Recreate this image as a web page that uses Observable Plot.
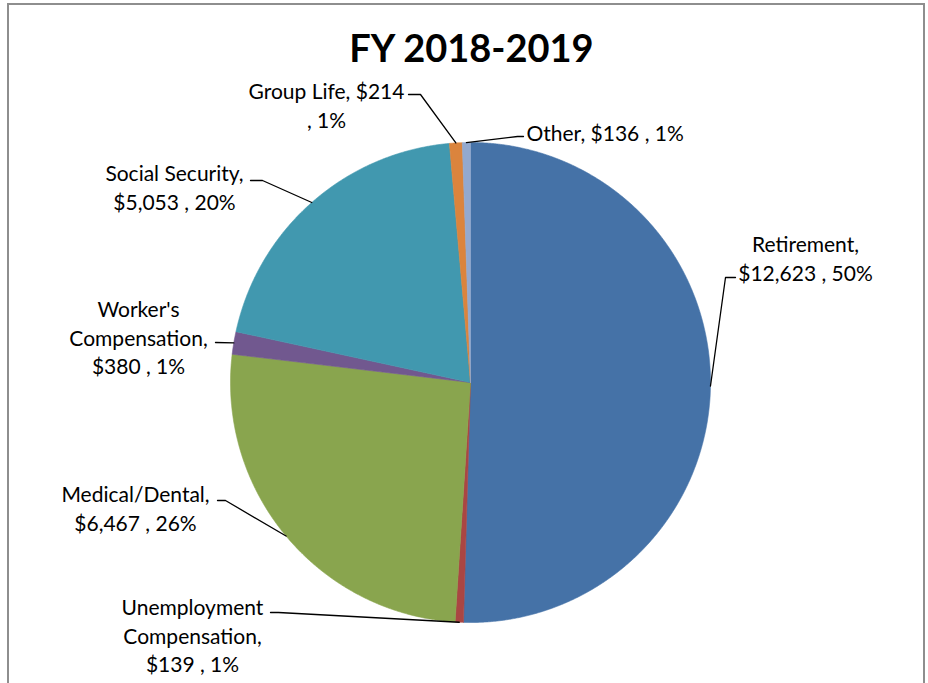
<!DOCTYPE html>
<html><head><meta charset="utf-8">
<script src="https://cdn.jsdelivr.net/npm/d3@7"></script>
<script src="https://cdn.jsdelivr.net/npm/@observablehq/plot@0.6"></script>
<style>
html,body{margin:0;padding:0;background:#fff;overflow:hidden}
#wrap{position:relative;width:928px;height:683px}
#border{position:absolute;left:7px;top:3px;width:918px;height:740px;border:2px solid #8e8e8e;box-sizing:border-box;pointer-events:none}
</style></head><body><div id="wrap"><div id="chart"></div><div id="border"></div></div>
<script>
// ---- data ----
const title = "FY 2018-2019";
const categories = ["Retirement", "Unemployment Compensation", "Medical/Dental", "Worker's Compensation", "Social Security", "Group Life", "Other"];
const values = [12623, 139, 6467, 380, 5053, 214, 136];
const amountLabels = ["$12,623", "$139", "$6,467", "$380", "$5,053", "$214", "$136"];
const percentLabels = ["50%", "1%", "26%", "1%", "20%", "1%", "1%"];
// how the original wraps each data label
const labelLines = [
  ["Retirement,", "$12,623 , 50%"],
  ["Unemployment", "Compensation,", "$139 , 1%"],
  ["Medical/Dental,", "$6,467 , 26%"],
  ["Worker's", "Compensation,", "$380 , 1%"],
  ["Social Security,", "$5,053 , 20%"],
  ["Group Life, $214", ", 1%"],
  ["Other, $136 , 1%"]
];
const sliceColors = ["#4572A7", "#AA4643", "#89A54E", "#71588F", "#4198AF", "#DB843D", "#93A9CF"];

// ---- layout (pixels) ----
const W = 928, H = 683;
const center = [470, 382], radius = 240;
const labelPos = [[805, 257], [192, 634], [135, 507], [138, 336], [174, 186], [326, 104], [526, 131]];
const labelAnchor = ["middle", "middle", "middle", "middle", "middle", "middle", "start"];
const leaderElbows = [
  [[735, 277], [725, 277]],
  [[270, 612], [278, 612]],
  [[217, 500], [225, 500]],
  [[215, 342]],
  [[250, 180], [262, 180]],
  [[408, 94], [420, 94]],
  [[523, 136], [517, 136]]
];

// ---- geometry from the data ----
const arcs = d3.pie().sort(null).value(d => d)(values);
const pt = (a, r) => [center[0] + r * Math.sin(a), center[1] - r * Math.cos(a)];
const slicePts = [];
arcs.forEach((a, i) => {
  const cat = categories[i];
  slicePts.push({cat, x: center[0], y: center[1]});
  const n = Math.max(2, Math.ceil((a.endAngle - a.startAngle) / (Math.PI / 720)));
  for (let k = 0; k <= n; k++) {
    const t = a.startAngle + (a.endAngle - a.startAngle) * k / n;
    const [x, y] = pt(t, radius);
    slicePts.push({cat, x, y});
  }
  slicePts.push({cat, x: center[0], y: center[1]});
});
const leaderPts = [];
arcs.forEach((a, i) => {
  const cat = categories[i];
  leaderElbows[i].forEach(([x, y]) => leaderPts.push({cat, x, y}));
  const [x, y] = pt((a.startAngle + a.endAngle) / 2, radius);
  leaderPts.push({cat, x, y});
});
const labels = categories.map((c, i) => ({
  cat: c, x: labelPos[i][0], y: labelPos[i][1], anchor: labelAnchor[i],
  text: labelLines[i].join("\n")
}));

const font = "Lato, 'Open Sans', sans-serif";
const chart = Plot.plot({
  width: W, height: H,
  margin: 0,
  x: {domain: [0, W], range: [0, W], axis: null},
  y: {domain: [0, H], range: [0, H], axis: null},
  color: {domain: categories, range: sliceColors},
  style: {background: "#fff", fontFamily: font},
  marks: [
    Plot.line(slicePts, {x: "x", y: "y", z: "cat", fill: "cat", stroke: "cat", strokeWidth: 0.6, curve: "linear"}),
    Plot.line(leaderPts, {x: "x", y: "y", z: "cat", stroke: "black", strokeWidth: 1.3, curve: "linear"}),
    Plot.text(labels.filter(d => d.anchor === "middle"), {x: "x", y: "y", text: "text", textAnchor: "middle", lineAnchor: "middle", lineHeight: 1.36, fontSize: 21, fill: "#000", fontFamily: font}),
    Plot.text(labels.filter(d => d.anchor === "start"), {x: "x", y: "y", text: "text", textAnchor: "start", lineAnchor: "middle", lineHeight: 1.36, fontSize: 21, fill: "#000", fontFamily: font}),
    Plot.text([title], {frameAnchor: "top", dx: 7, dy: 35, text: d => d, fontSize: 38, fontWeight: "bold", fill: "#000", fontFamily: font, lineAnchor: "top"})
  ]
});
document.getElementById("chart").appendChild(chart);
</script>
</body></html>
